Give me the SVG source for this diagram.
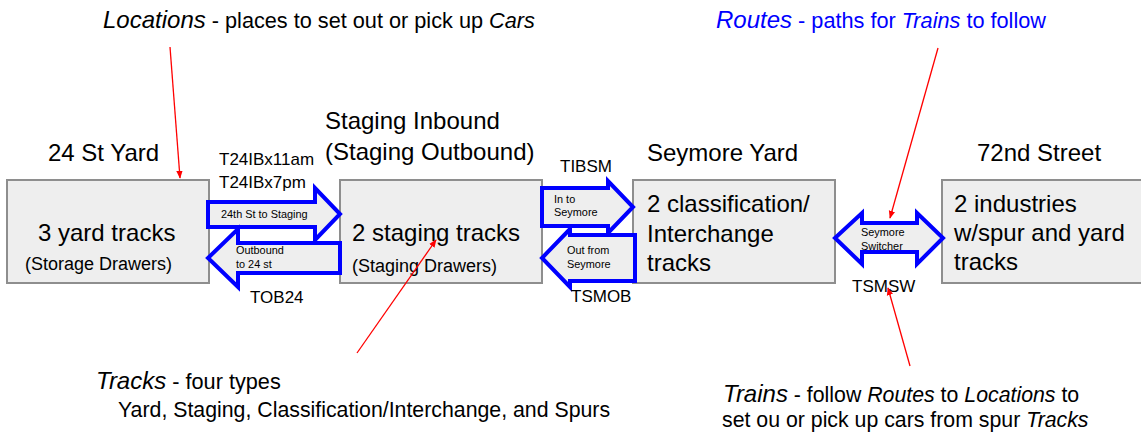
<svg xmlns="http://www.w3.org/2000/svg" width="1141" height="433" viewBox="0 0 1141 433">
  <defs>
    <marker id="redhead" viewBox="0 0 10 10" refX="9" refY="5" markerWidth="8" markerHeight="8" orient="auto" markerUnits="userSpaceOnUse">
      <path d="M0,1 L10,5 L0,9 Z" fill="#ff0000"/>
    </marker>
    <style>
      text { font-family: "Liberation Sans", Arial, sans-serif; fill: #000; }
      .box { fill: #eeeeee; stroke: #8e8e8e; stroke-width: 2; }
      .route { fill: #eeeeee; stroke: #0000ff; stroke-width: 4; stroke-linejoin: miter; }
      .pointer { stroke: #ff0000; stroke-width: 1.3; fill: none; marker-end: url(#redhead); }
      .title { font-size: 24px; }
      .big { font-size: 24px; }
      .sub { font-size: 18px; }
      .code { font-size: 17px; }
      .small { font-size: 10.9px; }
      .note { font-size: 21.7px; }
      .note2 { font-size: 21.3px; }
      .key { font-size: 24px; font-style: italic; }
      .em { font-style: italic; }
      .blue, .blue tspan { fill: #0000ff; }
    </style>
  </defs>

  <!-- Locations -->
  <g id="yard24">
    <text class="title" x="48" y="161">24 St Yard</text>
    <rect class="box" x="7" y="180" width="202" height="103"/>
    <text class="big" x="38" y="241">3 yard tracks</text>
    <text class="sub" x="25" y="270">(Storage Drawers)</text>
  </g>

  <g id="staging">
    <text class="title" x="325" y="129">Staging Inbound</text>
    <text class="title" x="325" y="160">(Staging Outbound)</text>
    <rect class="box" x="340" y="180" width="202" height="103"/>
    <text class="big" x="352" y="241">2 staging tracks</text>
    <text class="sub" x="352" y="272">(Staging Drawers)</text>
  </g>

  <g id="seymore">
    <text class="title" x="647" y="161">Seymore Yard</text>
    <rect class="box" x="633" y="180" width="202" height="103"/>
    <text class="big" x="647" y="212">2 classification/</text>
    <text class="big" x="647" y="242">Interchange</text>
    <text class="big" x="647" y="271">tracks</text>
  </g>

  <g id="street72">
    <text class="title" x="977" y="161">72nd Street</text>
    <rect class="box" x="942" y="180" width="205" height="103"/>
    <text class="big" x="954" y="212">2 industries</text>
    <text class="big" x="954" y="241">w/spur and yard</text>
    <text class="big" x="954" y="270">tracks</text>
  </g>

  <!-- Routes between locations -->
  <g id="connectors">
    <g id="route-t24ib">
      <path class="route" d="M208,202 H315 V188 L340,214 L315,240 V227 H208 Z"/>
      <text class="small" x="221" y="218">24th St to Staging</text>
      <text class="code" x="219" y="165">T24IBx11am</text>
      <text class="code" x="219" y="188">T24IBx7pm</text>
    </g>
    <g id="route-tob24">
      <path class="route" d="M340,243 H238 V229 L208,258 L238,287 V273 H340 Z"/>
      <text class="small" x="236" y="254">Outbound</text>
      <text class="small" x="236" y="268">to 24 st</text>
      <text class="code" x="250" y="303">TOB24</text>
    </g>
    <g id="route-tibsm">
      <path class="route" d="M542,188 H608 V181 L633,207 L608,233 V226 H542 Z"/>
      <text class="small" x="554" y="203">In to</text>
      <text class="small" x="554" y="216">Seymore</text>
      <text class="code" x="560" y="172">TIBSM</text>
    </g>
    <g id="route-tsmob">
      <path class="route" d="M635,235 H570 V229 L542,258 L570,287 V281 H635 Z"/>
      <text class="small" x="567" y="254">Out from</text>
      <text class="small" x="567" y="268">Seymore</text>
      <text class="code" x="571" y="302">TSMOB</text>
    </g>
    <g id="route-tsmsw">
      <path class="route" d="M835,238 L862,213 V223 H917 V213 L943,238 L917,264 V252 H862 V264 Z"/>
      <text class="small" x="861" y="236">Seymore</text>
      <text class="small" x="861" y="250">Switcher</text>
      <text class="code" x="852" y="292">TSMSW</text>
    </g>

    <!-- Callout pointers -->
    <line class="pointer" x1="170" y1="47" x2="180" y2="178"/>
    <line class="pointer" x1="938" y1="48" x2="890" y2="218"/>
    <line class="pointer" x1="357" y1="353" x2="436" y2="240"/>
    <line class="pointer" x1="910" y1="366" x2="888" y2="288"/>
  </g>

  <!-- Legend notes -->
  <g id="notes">
    <text class="note" x="103" y="28"><tspan class="key">Locations</tspan> - places to set out or pick up <tspan class="em">Cars</tspan></text>
    <text class="note blue" x="716" y="28"><tspan class="key">Routes</tspan> - paths for <tspan class="em">Trains</tspan> to follow</text>
    <text class="note" x="96" y="389"><tspan class="key">Tracks</tspan> - four types</text>
    <text class="note2" x="118" y="417">Yard, Staging, Classification/Interchange, and Spurs</text>
    <text class="note2" x="723" y="402"><tspan class="key">Trains</tspan> - follow <tspan class="em">Routes</tspan> to <tspan class="em">Locations</tspan> to</text>
    <text class="note2" x="722" y="427">set ou or pick up cars from spur <tspan class="em">Tracks</tspan></text>
  </g>
</svg>
